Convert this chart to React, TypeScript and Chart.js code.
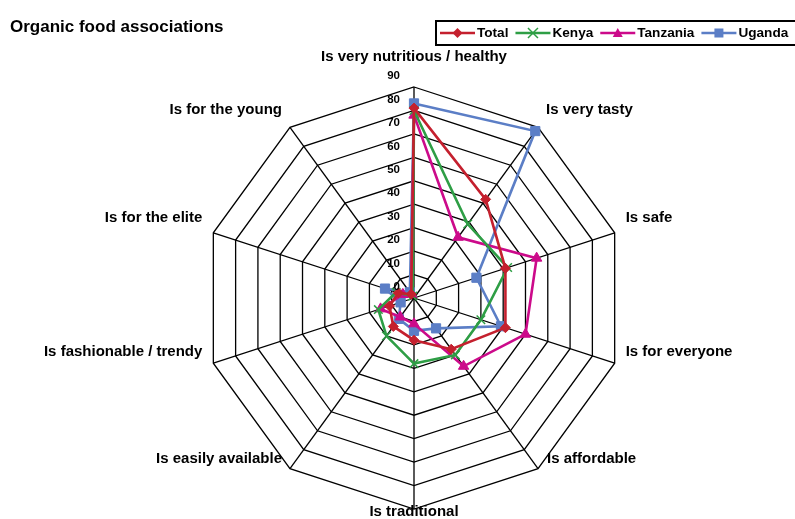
import React, { useEffect, useRef } from 'react';
import { Chart, registerables } from 'chart.js';

Chart.register(...registerables);

const chartTitle = 'Organic food associations';
const categories = [
  'Is very nutritious / healthy',
  'Is very tasty',
  'Is safe',
  'Is for everyone',
  'Is affordable',
  'Is traditional',
  'Is easily available',
  'Is fashionable / trendy',
  'Is for the elite',
  'Is for the young',
];
const seriesNames = ['Total', 'Kenya', 'Tanzania', 'Uganda'];
const totalValues = [81, 52, 41, 41, 27, 18, 15, 11, 7, 2];
const kenyaValues = [80, 39, 42, 30, 30, 28, 20, 16, 8, 1];
const tanzaniaValues = [78, 32, 55, 50, 36, 11, 10, 15, 5, 2];
const ugandaValues = [83, 88, 28, 39, 16, 14, 11, 6, 13, 3];
const tickValues = [0, 10, 20, 30, 40, 50, 60, 70, 80, 90];

const FONT = '"Liberation Sans", Arial, Helvetica, sans-serif';

const seriesStyles = [
  { color: '#C4202E', pointStyle: 'rectRot', radius: 5, fill: true },
  { color: '#2E9E45', pointStyle: 'crossRot', radius: 6, fill: false },
  { color: '#CC0A8A', pointStyle: 'triangle', radius: 6, fill: true },
  { color: '#5B7EC6', pointStyle: 'rect', radius: 6.5, fill: true },
];
const seriesData = [totalValues, kenyaValues, tanzaniaValues, ugandaValues];

const labelDx = [0, 8, 11, 11, 9, 0, -8, -11, -11, -8];
const labelDy = [-30, -17, -15, -11.5, -9.5, 3, -9.5, -11.5, -15, -17];

function drawMarker(ctx: CanvasRenderingContext2D, style: string, x: number, y: number, r: number, color: string) {
  ctx.save();
  ctx.fillStyle = color;
  ctx.strokeStyle = color;
  ctx.beginPath();
  if (style === 'rectRot') {
    ctx.moveTo(x, y - r);
    ctx.lineTo(x + r, y);
    ctx.lineTo(x, y + r);
    ctx.lineTo(x - r, y);
    ctx.closePath();
    ctx.fill();
  } else if (style === 'crossRot') {
    ctx.lineWidth = 1.5;
    ctx.moveTo(x - r, y - r);
    ctx.lineTo(x + r, y + r);
    ctx.moveTo(x + r, y - r);
    ctx.lineTo(x - r, y + r);
    ctx.stroke();
  } else if (style === 'triangle') {
    ctx.moveTo(x, y - r);
    ctx.lineTo(x + r, y + r * 0.8);
    ctx.lineTo(x - r, y + r * 0.8);
    ctx.closePath();
    ctx.fill();
  } else {
    ctx.fillRect(x - r, y - r, 2 * r, 2 * r);
  }
  ctx.restore();
}

const overlayPlugin = {
  id: 'overlayPlugin',
  afterDraw(chart: any) {
    const ctx: CanvasRenderingContext2D = chart.ctx;
    const r = chart.scales.r;
    ctx.save();
    ctx.fillStyle = '#000';

    // tick labels (Excel style, left of the vertical axis)
    ctx.font = `bold 11.5px ${FONT}`;
    ctx.textAlign = 'right';
    ctx.textBaseline = 'middle';
    tickValues.forEach((v) => {
      const d = r.getDistanceFromCenterForValue(v);
      ctx.fillText(String(v), r.xCenter - 14, r.yCenter - d - 11);
    });

    // category labels
    ctx.font = `bold 15px ${FONT}`;
    categories.forEach((c, i) => {
      const p = r.getPointPosition(i, r.drawingArea);
      const dx = labelDx[i];
      ctx.textAlign = dx > 0 ? 'left' : dx < 0 ? 'right' : 'center';
      ctx.fillText(c, p.x + dx, p.y + labelDy[i]);
    });

    // title
    ctx.font = `bold 17px ${FONT}`;
    ctx.textAlign = 'left';
    ctx.fillText(chartTitle, 10, 27);

    // legend
    ctx.lineWidth = 2;
    ctx.strokeStyle = '#000';
    ctx.strokeRect(436, 21, 400, 24);
    ctx.font = `bold 13.6px ${FONT}`;
    let x = 440;
    const ly = 33;
    seriesNames.forEach((name, i) => {
      const st = seriesStyles[i];
      ctx.strokeStyle = st.color;
      ctx.lineWidth = 2.5;
      ctx.beginPath();
      ctx.moveTo(x, ly);
      ctx.lineTo(x + 35, ly);
      ctx.stroke();
      drawMarker(ctx, st.pointStyle, x + 17.5, ly, st.pointStyle === 'rect' ? 4.5 : 5, st.color);
      ctx.fillStyle = '#000';
      ctx.textAlign = 'left';
      ctx.fillText(name, x + 37, ly);
      x += 37 + ctx.measureText(name).width + 7;
    });
    ctx.restore();
  },
};

export default function App() {
  const canvasRef = useRef<HTMLCanvasElement | null>(null);

  useEffect(() => {
    if (!canvasRef.current) return;
    const chart = new Chart(canvasRef.current, {
      type: 'radar',
      data: {
        labels: categories,
        datasets: seriesNames.map((name, i) => {
          const st = seriesStyles[i];
          return {
            label: name,
            data: seriesData[i],
            borderColor: st.color,
            backgroundColor: st.color,
            borderWidth: 2.6,
            fill: false,
            tension: 0,
            pointStyle: st.pointStyle as any,
            pointRadius: st.radius,
            pointHoverRadius: st.radius,
            pointBackgroundColor: st.fill ? st.color : 'rgba(0,0,0,0)',
            pointBorderColor: st.color,
            pointBorderWidth: st.fill ? 1 : 1.5,
          };
        }),
      },
      options: {
        responsive: false,
        animation: false,
        devicePixelRatio: 1,
        layout: { padding: { left: 203, top: 87, right: 170, bottom: 10 } },
        plugins: {
          legend: { display: false },
          title: { display: false },
          tooltip: { enabled: false },
        },
        scales: {
          r: {
            min: 0,
            max: 90,
            beginAtZero: true,
            ticks: { display: false, stepSize: 10 },
            pointLabels: { display: false },
            grid: { color: '#000', lineWidth: 1.3, circular: false },
            angleLines: { display: true, color: '#000', lineWidth: 1.3 },
          },
        },
      },
      plugins: [overlayPlugin],
    });
    return () => chart.destroy();
  }, []);

  return (
    <div style={{ position: 'fixed', left: 0, top: 0, width: 795, height: 519, background: '#fff' }}>
      <canvas ref={canvasRef} width={795} height={519} style={{ display: 'block' }} />
    </div>
  );
}
